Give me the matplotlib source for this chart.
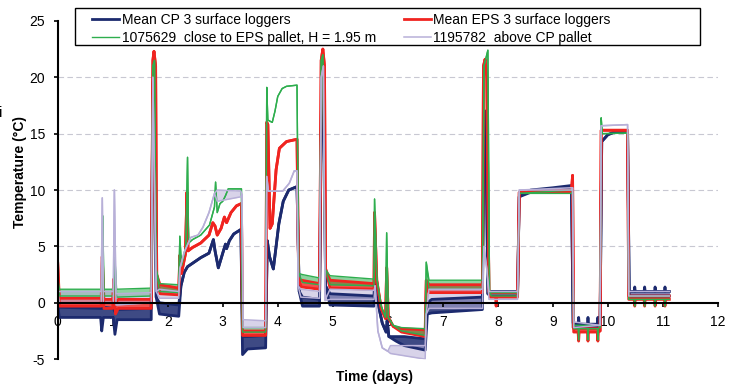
import matplotlib
matplotlib.use("Agg")
import matplotlib.pyplot as plt
from matplotlib.patches import Rectangle
import numpy as np

plt.rcParams['font.family'] = ['Liberation Sans', 'DejaVu Sans']
plt.rcParams['axes.unicode_minus'] = False

# each row: (time in days, lower edge, upper edge) of the logged trace
cp_points = [
    (0.00, -0.2, 0.3), (0.03, -1.3, -0.4), (0.78, -1.3, -0.5), (0.80, -2.5, -0.5),
    (0.83, -1.3, -0.4), (1.01, -1.3, -0.5), (1.04, -2.8, -0.8), (1.08, -1.5, -0.6),
    (1.70, -1.5, -0.5), (1.73, 19.5, 19.5), (1.76, 21.0, 21.0), (1.79, 0.5, 0.5),
    (1.85, -1.0, 0.0), (2.20, -1.2, -0.2), (2.24, 1.5, 1.5), (2.30, 2.7, 2.7),
    (2.36, 3.2, 3.2), (2.45, 3.5, 3.5), (2.60, 4.0, 4.0), (2.75, 4.4, 4.4),
    (2.83, 5.6, 5.6), (2.86, 4.6, 4.6), (2.92, 3.1, 3.1), (3.00, 4.4, 4.4),
    (3.05, 5.2, 5.2), (3.07, 4.8, 4.8), (3.12, 5.5, 5.5), (3.20, 6.1, 6.1),
    (3.33, 6.5, 6.5), (3.36, -4.6, -3.0), (3.45, -4.1, -3.0), (3.78, -4.0, -2.9),
    (3.81, 5.5, 5.5), (3.85, 4.1, 4.1), (3.92, 3.0, 3.0), (3.97, 5.0, 5.0),
    (4.02, 7.0, 7.0), (4.10, 9.0, 9.0), (4.20, 10.0, 10.0), (4.35, 10.3, 10.3),
    (4.39, 1.0, 1.0), (4.45, -0.3, 0.5), (4.76, -0.3, 0.3), (4.80, 20.5, 20.5),
    (4.83, 21.0, 21.0), (4.87, 1.5, 1.5), (4.95, -0.2, 0.8), (5.75, -0.3, 0.6),
    (5.77, 3.0, 3.0), (5.82, 0.0, 0.0), (5.90, -1.8, -1.8), (5.97, -2.6, -2.6),
    (5.99, -1.6, -1.6), (6.02, -3.0, -3.0), (6.15, -3.4, -3.0), (6.30, -3.8, -3.0),
    (6.68, -4.2, -3.2), (6.72, -1.0, 0.0), (6.80, -0.9, 0.3), (7.72, -0.6, 0.5),
    (7.75, 16.0, 16.0), (7.78, 17.0, 17.0), (7.82, 0.8, 0.8), (7.86, 0.6, 1.0),
    (8.36, 0.6, 1.0), (8.39, 9.4, 9.4), (8.60, 9.8, 10.0), (9.00, 10.0, 10.2),
    (9.34, 10.2, 10.4), (9.37, -2.2, -1.8), (9.46, -2.2, -1.9), (9.47, -2.2, -1.3),
    (9.48, -2.2, -1.9), (9.63, -2.2, -1.9), (9.64, -2.2, -1.3), (9.65, -2.2, -1.9),
    (9.81, -2.2, -1.9), (9.82, -2.2, -1.3), (9.83, -2.2, -1.9), (9.86, -2.0, -2.0),
    (9.89, 14.3, 14.3), (10.00, 14.9, 14.9), (10.10, 15.1, 15.1), (10.36, 15.2, 15.2),
    (10.39, 0.6, 1.0), (10.48, 0.6, 1.0), (10.49, 0.6, 1.4), (10.50, 0.6, 1.0),
    (10.66, 0.6, 1.0), (10.67, 0.6, 1.4), (10.68, 0.6, 1.0), (10.85, 0.6, 1.0),
    (10.86, 0.6, 1.4), (10.87, 0.6, 1.0), (11.03, 0.6, 1.0), (11.04, 0.6, 1.4),
    (11.05, 0.6, 1.0), (11.12, 0.6, 1.0),
]

eps_points = [
    (0.00, 3.5, 3.5), (0.03, -0.3, 0.4), (0.79, -0.3, 0.4), (0.81, 4.1, 4.1),
    (0.84, -0.5, 0.3), (1.00, -0.5, 0.3), (1.02, 2.1, 2.1), (1.05, -1.0, 0.0),
    (1.10, -0.5, 0.3), (1.70, -0.5, 0.3), (1.73, 21.5, 21.5), (1.75, 22.3, 22.3),
    (1.78, 21.0, 21.0), (1.80, 2.5, 2.5), (1.86, 0.8, 1.6), (2.20, 0.7, 1.3),
    (2.22, 4.2, 4.2), (2.25, 2.6, 2.6), (2.32, 4.3, 4.3), (2.35, 9.8, 9.8),
    (2.37, 4.6, 4.6), (2.45, 4.9, 4.9), (2.60, 5.3, 5.3), (2.75, 6.0, 6.0),
    (2.82, 7.1, 7.1), (2.86, 6.8, 6.8), (2.90, 6.0, 6.0), (2.97, 6.6, 6.6),
    (3.03, 7.6, 7.6), (3.07, 7.1, 7.1), (3.15, 8.0, 8.0), (3.25, 8.6, 8.6),
    (3.34, 8.8, 8.8), (3.36, -2.9, -2.5), (3.78, -2.9, -2.5), (3.80, 16.0, 16.0),
    (3.82, 15.8, 15.8), (3.86, 6.6, 6.6), (3.90, 7.0, 7.0), (3.97, 11.8, 11.8),
    (4.03, 13.7, 13.7), (4.16, 14.3, 14.3), (4.35, 14.5, 14.5), (4.38, 2.0, 2.0),
    (4.43, 1.4, 2.0), (4.76, 1.2, 1.7), (4.79, 21.5, 21.5), (4.82, 22.5, 22.5),
    (4.85, 21.0, 21.0), (4.87, 3.0, 3.0), (4.95, 1.3, 2.0), (5.75, 1.2, 1.7),
    (5.76, 8.0, 8.0), (5.80, 2.0, 2.0), (5.88, -0.5, -0.5), (5.96, -1.4, -1.4),
    (5.98, 3.1, 3.1), (6.01, -1.3, -1.3), (6.10, -2.1, -2.1), (6.25, -2.6, -2.3),
    (6.68, -3.0, -2.4), (6.70, 2.0, 2.0), (6.75, 0.9, 1.6), (7.72, 0.9, 1.6),
    (7.74, 21.0, 21.0), (7.77, 21.6, 21.6), (7.80, 20.0, 20.0), (7.84, 1.0, 1.0),
    (7.86, 0.5, 0.9), (7.96, 0.5, 0.9), (7.97, -0.3, 0.9), (7.98, 0.5, 0.9),
    (8.36, 0.5, 0.9), (8.39, 9.8, 9.8), (9.34, 9.8, 10.0), (9.36, 11.3, 11.3),
    (9.38, -2.6, -2.3), (9.46, -2.6, -2.3), (9.47, -3.4, -2.3), (9.48, -2.6, -2.3),
    (9.63, -2.6, -2.3), (9.64, -3.4, -2.3), (9.65, -2.6, -2.3), (9.81, -2.6, -2.3),
    (9.82, -3.4, -2.3), (9.83, -2.6, -2.3), (9.86, -2.5, -2.5), (9.88, 15.3, 15.3),
    (10.36, 15.3, 15.3), (10.38, 0.3, 0.6), (10.48, 0.3, 0.6), (10.49, -0.3, 0.6),
    (10.50, 0.3, 0.6), (10.66, 0.3, 0.6), (10.67, -0.3, 0.6), (10.68, 0.3, 0.6),
    (10.85, 0.3, 0.6), (10.86, -0.3, 0.6), (10.87, 0.3, 0.6), (11.03, 0.3, 0.6),
    (11.04, -0.3, 0.6), (11.05, 0.3, 0.6), (11.12, 0.3, 0.6),
]

green_points = [
    (0.00, 2.3, 2.3), (0.03, 0.6, 1.2), (0.80, 0.6, 1.2), (0.82, 7.7, 7.7),
    (0.84, 0.6, 1.2), (1.02, 0.6, 1.2), (1.04, 4.0, 4.0), (1.07, 0.5, 1.2),
    (1.70, 0.6, 1.3), (1.73, 21.0, 21.0), (1.76, 21.5, 21.5), (1.79, 3.0, 3.0),
    (1.85, 1.0, 1.7), (2.20, 0.9, 1.6), (2.22, 5.9, 5.9), (2.25, 3.3, 3.3),
    (2.33, 5.0, 5.0), (2.36, 12.9, 12.9), (2.38, 5.3, 5.3), (2.45, 5.6, 5.6),
    (2.60, 6.0, 6.0), (2.76, 6.9, 6.9), (2.85, 8.5, 8.5), (2.87, 10.7, 10.7),
    (2.90, 8.0, 8.0), (2.95, 8.8, 8.8), (3.00, 9.0, 9.0), (3.05, 9.5, 9.5),
    (3.10, 10.1, 10.1), (3.34, 10.1, 10.1), (3.36, -2.6, -2.2), (3.78, -2.6, -2.2),
    (3.80, 19.1, 19.1), (3.82, 16.2, 16.2), (3.90, 16.0, 16.0), (3.95, 17.0, 17.0),
    (4.00, 18.3, 18.3), (4.08, 19.0, 19.0), (4.16, 19.2, 19.2), (4.35, 19.3, 19.3),
    (4.38, 2.6, 2.6), (4.45, 1.8, 2.5), (4.76, 1.6, 2.2), (4.79, 21.5, 21.5),
    (4.82, 22.0, 22.0), (4.86, 3.0, 3.0), (4.95, 1.6, 2.4), (5.75, 1.5, 2.1),
    (5.76, 9.2, 9.2), (5.80, 2.2, 2.2), (5.88, -0.3, -0.3), (5.96, -1.3, -1.3),
    (5.98, 6.2, 6.2), (6.01, -1.3, -1.3), (6.10, -2.0, -2.0), (6.25, -2.5, -2.2),
    (6.68, -2.9, -2.3), (6.70, 3.6, 3.6), (6.75, 1.2, 2.0), (7.72, 1.2, 2.0),
    (7.75, 21.0, 21.0), (7.82, 22.4, 22.4), (7.85, 1.0, 1.0), (7.88, 0.6, 0.9),
    (8.36, 0.6, 0.9), (8.39, 9.7, 9.7), (9.34, 9.7, 10.0), (9.36, 9.8, 9.8),
    (9.38, -2.3, -2.0), (9.46, -2.3, -2.0), (9.47, -3.3, -2.0), (9.48, -2.3, -2.0),
    (9.63, -2.3, -2.0), (9.64, -3.3, -2.0), (9.65, -2.3, -2.0), (9.81, -2.3, -2.0),
    (9.82, -3.3, -2.0), (9.83, -2.3, -2.0), (9.86, -2.2, -2.2), (9.88, 16.4, 16.4),
    (9.90, 15.0, 15.0), (10.36, 15.05, 15.05), (10.38, 0.3, 0.6), (10.48, 0.3, 0.6),
    (10.49, -0.3, 0.6), (10.50, 0.3, 0.6), (10.66, 0.3, 0.6), (10.67, -0.3, 0.6),
    (10.68, 0.3, 0.6), (10.85, 0.3, 0.6), (10.86, -0.3, 0.6), (10.87, 0.3, 0.6),
    (11.03, 0.3, 0.6), (11.04, -0.3, 0.6), (11.05, 0.3, 0.6), (11.12, 0.3, 0.6),
]

lav_points = [
    (0.00, 1.0, 1.0), (0.03, 0.0, 1.0), (0.79, 0.0, 1.0), (0.81, 9.3, 9.3),
    (0.83, 0.0, 1.0), (1.01, 0.0, 1.0), (1.03, 10.0, 10.0), (1.06, -0.2, 0.8),
    (1.70, 0.0, 0.9), (1.73, 20.0, 20.0), (1.79, 1.0, 1.0), (1.85, 0.4, 1.2),
    (2.20, 0.4, 1.0), (2.22, 3.0, 3.0), (2.30, 4.5, 4.5), (2.42, 5.8, 5.8),
    (2.55, 6.0, 6.0), (2.64, 6.7, 6.7), (2.75, 8.0, 8.0), (2.85, 9.7, 9.7),
    (2.90, 9.0, 10.0), (3.33, 9.4, 9.9), (3.35, 9.6, 9.6), (3.37, -2.2, -1.5),
    (3.78, -2.2, -1.6), (3.80, 11.2, 11.2), (3.83, 9.9, 9.9), (4.09, 9.9, 9.9),
    (4.21, 10.6, 10.6), (4.30, 11.7, 11.7), (4.35, 11.7, 11.7), (4.37, 1.5, 1.5),
    (4.42, 0.5, 1.2), (4.76, 0.4, 1.0), (4.79, 20.0, 20.0), (4.83, 21.0, 21.0),
    (4.86, 0.2, 0.2), (4.95, 0.3, 1.2), (5.75, 0.3, 1.1), (5.77, 1.5, 1.5),
    (5.82, -2.5, -2.5), (5.90, -4.0, -4.0), (6.00, -4.3, -4.3), (6.05, -4.5, -3.8),
    (6.68, -5.0, -3.8), (6.70, -1.0, -1.0), (6.75, -0.5, 1.2), (7.72, -0.5, 1.2),
    (7.75, 5.0, 5.0), (7.80, 3.0, 3.0), (7.84, 0.3, 1.0), (8.36, 0.3, 1.0),
    (8.39, 10.0, 10.0), (9.34, 10.0, 10.2), (9.36, 10.2, 10.2), (9.38, -2.2, -1.7),
    (9.86, -2.0, -2.0), (9.88, 15.7, 15.7), (10.36, 15.8, 15.8), (10.38, 0.6, 1.0),
    (11.12, 0.6, 1.0),
]

labels = ['Mean CP 3 surface loggers', 'Mean EPS 3 surface loggers',
          '1075629  close to EPS pallet, H = 1.95 m', '1195782  above CP pallet']
colors = ['#1C2A6E', '#F02420', '#2EAE4E', '#B8B0D8']
grid_levels = [5, 10, 15, 20]

fig = plt.figure(figsize=(7.4, 3.87), dpi=100)
ax = fig.add_axes([0.078, 0.072, 0.892, 0.874])

series = [cp_points, eps_points, green_points, lav_points]
widths = [2.0, 2.0, 1.0, 1.1]
alphas = [0.85, 0.8, 0.55, 0.55]
handles = []
for pts, lab, col, lw, a in zip(series, labels, colors, widths, alphas):
    t, lo, hi = np.array(pts).T
    ax.fill_between(t, lo, hi, color=col, alpha=a, lw=0)
    ax.plot(t, hi, color=col, lw=lw)
    h, = ax.plot(t, lo, color=col, lw=lw, label=lab)
    handles.append(h)

for g in grid_levels:
    ax.axhline(g, color='#C8C8D2', lw=0.8, ls=(0, (5, 3)), zorder=0)

ax.set_xlim(0, 12)
ax.set_ylim(-5, 25)
ax.set_xticks(range(0, 13))
ax.set_yticks(range(-5, 26, 5))
ax.spines['top'].set_visible(False)
ax.spines['right'].set_visible(False)
ax.spines['bottom'].set_position(('data', 0))
ax.spines['left'].set_linewidth(1.5)
ax.spines['bottom'].set_linewidth(1.5)
ax.tick_params(axis='both', labelsize=10, length=3, width=1.2, direction='out')
ax.tick_params(axis='x', pad=6)
ax.tick_params(axis='y', pad=6)

ax.set_xlabel('Time (days)', fontsize=10, fontweight='bold')
ax.xaxis.set_label_coords(0.48, -0.033)
ax.set_ylabel('Temperature (\u00b0C)', fontsize=10, fontweight='bold')
ax.yaxis.set_label_coords(-0.047, 0.553)

# legend fills column by column: CP and green on the left, EPS and lavender on the right
order = [0, 2, 1, 3]
ax.legend([handles[i] for i in order], [labels[i] for i in order], ncol=2,
          frameon=False, loc='upper left', bbox_to_anchor=(0.0515, 1.024),
          borderpad=0, borderaxespad=0, handlelength=2.0, handletextpad=0.15,
          columnspacing=2.0, labelspacing=0.3, fontsize=10)
fig.add_artist(Rectangle((75 / 740, 1 - 45 / 387), 625 / 740, 37 / 387,
                         transform=fig.transFigure, fill=False, ec='black', lw=1.0))

fig.text(-0.002, 1 - 113 / 387, 'i', fontsize=11, va='center', ha='left')

fig.savefig('out.png', dpi=100)
